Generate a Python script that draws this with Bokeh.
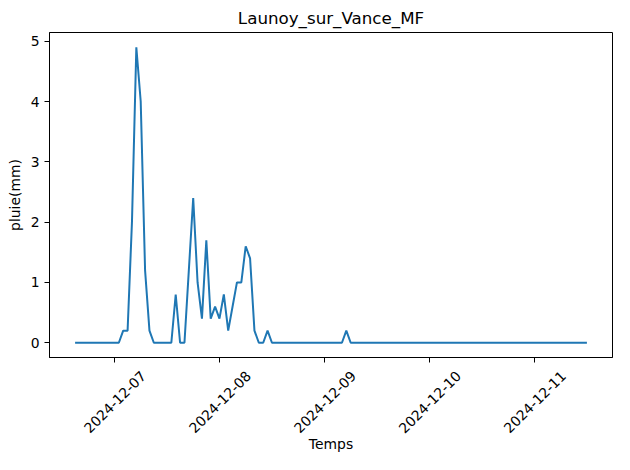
import math
import pandas as pd
from bokeh.plotting import figure
from bokeh.models import FixedTicker, DatetimeTickFormatter, Range1d
from bokeh.embed import file_html
from bokeh.resources import INLINE

title = "Launoy_sur_Vance_MF"
x_label = "Temps"
y_label = "pluie(mm)"
start_time = "2024-12-06 15:00"

# hourly rainfall (mm)
rain_0612 = [0, 0, 0, 0, 0, 0, 0, 0, 0]
rain_0712 = [0, 0, 0.2, 0.2, 2.0, 4.9, 4.0, 1.2, 0.2, 0, 0, 0, 0, 0, 0.8, 0, 0, 1.2, 2.4, 1.0, 0.4, 1.7, 0.4, 0.6]
rain_0812 = [0.4, 0.8, 0.2, 0.6, 1.0, 1.0, 1.6, 1.4, 0.2, 0, 0, 0.2, 0, 0, 0, 0, 0, 0, 0, 0, 0, 0, 0, 0]
rain_0912 = [0, 0, 0, 0, 0, 0.2, 0, 0, 0, 0, 0, 0, 0, 0, 0, 0, 0, 0, 0, 0, 0, 0, 0, 0]
rain_1012 = [0] * 24
rain_1112 = [0, 0, 0, 0, 0, 0, 0, 0, 0, 0, 0, 0, 0]

tick_dates = ["2024-12-07", "2024-12-08", "2024-12-09", "2024-12-10", "2024-12-11"]
y_ticks = [0, 1, 2, 3, 4, 5]

values = rain_0612 + rain_0712 + rain_0812 + rain_0912 + rain_1012 + rain_1112
times = pd.date_range(start_time, periods=len(values), freq="h")

W, H = 614, 454
BL, BR = 49, 2
frame_w = W - BL - BR

t0 = times[0].value / 1e6
t1 = times[-1].value / 1e6
span = t1 - t0
x_start, x_end = t0 - 0.05 * span, t1 + 0.05 * span
vmax = max(values)

p = figure(width=W, height=H, x_axis_type="datetime", output_backend="svg",
           toolbar_location=None, title=title,
           x_range=Range1d(x_start, x_end),
           y_range=Range1d(-0.05 * vmax, vmax * 1.05))
p.min_border_left = BL
p.min_border_right = BR
p.min_border_top = 32
p.min_border_bottom = 0

p.line(times, values, line_color="#1f77b4", line_width=2)

p.grid.visible = False
p.outline_line_color = "black"
p.outline_line_width = 1
p.background_fill_color = "white"
p.border_fill_color = "white"

FONT = "DejaVu Sans"
FS = "13.9px"

p.title.text_font = FONT
p.title.text_font_size = "16.7px"
p.title.text_font_style = "normal"
p.title.align = "center"
p.title.text_color = "black"

tick_ms = [pd.Timestamp(d).value / 1e6 for d in tick_dates]
fmt = DatetimeTickFormatter(days="%Y-%m-%d", months="%Y-%m-%d", hours="%Y-%m-%d",
                            years="%Y-%m-%d", minutes="%Y-%m-%d", hourmin="%Y-%m-%d")

# x axis: the tick marks are drawn as "minor" ticks at midnight, and the
# rotated labels sit on shifted (invisible) major ticks so that they are
# centred under the marks, as in the original.
ms_per_px = (x_end - x_start) / frame_w
shift = 29 * ms_per_px
xa = p.xaxis[0]
xa.ticker = FixedTicker(ticks=[t + shift for t in tick_ms], minor_ticks=tick_ms)
xa.formatter = fmt
xa.axis_line_color = "black"
xa.major_tick_line_color = None
xa.major_tick_out = 0
xa.major_tick_in = 0
xa.minor_tick_line_color = "black"
xa.minor_tick_out = 5
xa.minor_tick_in = 0
xa.major_label_orientation = math.pi / 4
xa.major_label_standoff = 11
xa.major_label_text_font = FONT
xa.major_label_text_font_size = FS
xa.major_label_text_color = "black"
xa.axis_label = x_label
xa.axis_label_text_font = FONT
xa.axis_label_text_font_size = FS
xa.axis_label_text_font_style = "normal"
xa.axis_label_text_color = "black"
xa.axis_label_standoff = -5

ya = p.yaxis[0]
ya.ticker = FixedTicker(ticks=y_ticks)
ya.axis_label = y_label
ya.axis_label_text_font = FONT
ya.axis_label_text_font_size = FS
ya.axis_label_text_font_style = "normal"
ya.axis_label_text_color = "black"
ya.major_label_text_font = FONT
ya.major_label_text_font_size = FS
ya.major_label_text_color = "black"
ya.axis_line_color = "black"
ya.major_tick_line_color = "black"
ya.major_tick_out = 5
ya.major_tick_in = 0
ya.minor_tick_line_color = None
ya.major_label_standoff = 5
ya.axis_label_standoff = 5

open("out.html", "w").write(file_html(p, INLINE))
